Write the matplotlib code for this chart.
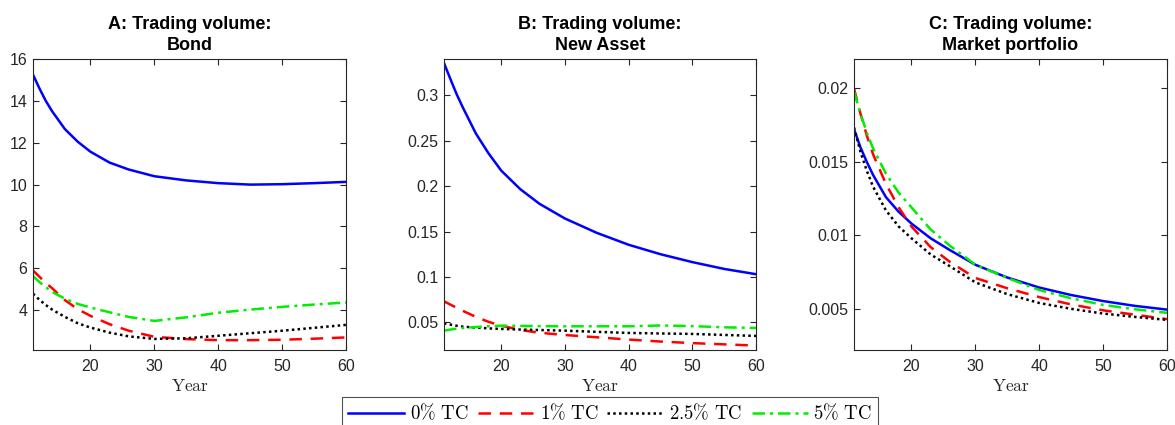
import matplotlib
matplotlib.use("Agg")
import matplotlib.pyplot as plt

plt.rcParams["mathtext.fontset"] = "cm"
plt.rcParams["font.family"] = ["Liberation Sans", "DejaVu Sans"]

# Horizon (years) at which each series is tabulated
years = [11, 12, 13, 14, 16, 18, 20, 23, 26, 30, 35, 40, 45, 50, 55, 60]

# Panel A: bond trading volume
bond_tc0 = [15.25, 14.6, 14.0, 13.5, 12.65, 12.05, 11.57, 11.05, 10.72, 10.4, 10.2, 10.07, 10.0, 10.02, 10.07, 10.13]
bond_tc1 = [5.9, 5.6, 5.3, 5.05, 4.48, 4.05, 3.73, 3.33, 3.02, 2.73, 2.62, 2.57, 2.57, 2.59, 2.64, 2.7]
bond_tc25 = [4.79, 4.5, 4.25, 4.03, 3.68, 3.38, 3.17, 2.93, 2.75, 2.63, 2.66, 2.78, 2.9, 3.02, 3.16, 3.3]
bond_tc5 = [5.63, 5.35, 5.1, 4.87, 4.55, 4.3, 4.13, 3.9, 3.68, 3.49, 3.66, 3.88, 4.03, 4.16, 4.27, 4.37]

# Panel B: new asset trading volume
new_tc0 = [0.3355, 0.318, 0.301, 0.286, 0.258, 0.236, 0.217, 0.1965, 0.1805, 0.1643, 0.1485, 0.1354, 0.125, 0.1163, 0.1088, 0.103]
new_tc1 = [0.0731, 0.0695, 0.066, 0.0625, 0.056, 0.0505, 0.0463, 0.0415, 0.0385, 0.036, 0.0335, 0.031, 0.0288, 0.0271, 0.0257, 0.0244]
new_tc25 = [0.0489, 0.0475, 0.0462, 0.0452, 0.0442, 0.0433, 0.0427, 0.042, 0.0415, 0.0408, 0.0395, 0.0383, 0.0377, 0.0372, 0.0361, 0.035]
new_tc5 = [0.0408, 0.042, 0.043, 0.0438, 0.0448, 0.0457, 0.0463, 0.046, 0.0458, 0.0456, 0.0456, 0.0456, 0.0465, 0.0458, 0.0445, 0.0438]

# Panel C: market portfolio trading volume
mkt_tc0 = [0.01723, 0.0160, 0.0150, 0.0141, 0.0126, 0.0116, 0.0108, 0.0098, 0.0090, 0.0080, 0.00713, 0.00645, 0.00594, 0.00553, 0.0052, 0.00495]
mkt_tc1 = [0.0200, 0.0183, 0.0168, 0.0155, 0.0135, 0.0119, 0.0106, 0.0092, 0.0082, 0.0071, 0.0064, 0.0058, 0.0053, 0.0049, 0.0046, 0.0043]
mkt_tc25 = [0.01734, 0.0157, 0.0144, 0.0133, 0.0117, 0.0106, 0.0098, 0.0087, 0.0079, 0.0068, 0.0060, 0.0054, 0.0050, 0.00468, 0.00445, 0.00425]
mkt_tc5 = [0.0198, 0.0183, 0.0170, 0.0159, 0.0142, 0.0129, 0.0119, 0.0104, 0.0093, 0.0080, 0.0071, 0.00628, 0.00572, 0.00527, 0.00497, 0.00473]

titles = ["A: Trading volume:\nBond", "B: Trading volume:\nNew Asset", "C: Trading volume:\nMarket portfolio"]
legend_labels = [r"$\mathrm{0\%\ TC}$", r"$\mathrm{1\%\ TC}$", r"$\mathrm{2.5\%\ TC}$", r"$\mathrm{5\%\ TC}$"]
x_ticks = [20, 30, 40, 50, 60]
y_ticks = [
    [4, 6, 8, 10, 12, 14, 16],
    [0.05, 0.1, 0.15, 0.2, 0.25, 0.3],
    [0.005, 0.01, 0.015, 0.02],
]
y_ticklabels = [
    ["4", "6", "8", "10", "12", "14", "16"],
    ["0.05", "0.1", "0.15", "0.2", "0.25", "0.3"],
    ["0.005", "0.01", "0.015", "0.02"],
]
y_limits = [(2.1, 16), (0.0195, 0.34), (0.0022, 0.022)]

panels = [
    (bond_tc0, bond_tc1, bond_tc25, bond_tc5),
    (new_tc0, new_tc1, new_tc25, new_tc5),
    (mkt_tc0, mkt_tc1, mkt_tc25, mkt_tc5),
]

styles = [
    dict(color="#0000ff", linestyle="-", linewidth=1.8),
    dict(color="#ff0000", linestyle=(0, (5, 3.5)), linewidth=1.8),
    dict(color="#000000", linestyle=(0, (1, 1.3)), linewidth=1.8),
    dict(color="#00ee00", linestyle=(0, (5, 2, 1.2, 2)), linewidth=1.8),
]

fig = plt.figure(figsize=(11.75, 4.25), dpi=100)
W, H = 1175, 425
lefts = [33, 444, 854]
widths = [313, 312, 313]
top_px, bottom_px = 59, 350

handles = None
for i, series in enumerate(panels):
    ax = fig.add_axes([lefts[i] / W, 1 - bottom_px / H, widths[i] / W, (bottom_px - top_px) / H])
    lines = []
    for vals, st in zip(series, styles):
        ln, = ax.plot(years, vals, **st)
        lines.append(ln)
    handles = lines
    ax.set_xlim(11, 60)
    ax.set_ylim(*y_limits[i])
    ax.set_xticks(x_ticks)
    ax.set_yticks(y_ticks[i])
    ax.set_yticklabels(y_ticklabels[i])
    ax.tick_params(direction="in", top=True, right=True, labelsize=11.5,
                   colors="#262626", length=4, width=0.8)
    ax.tick_params(axis="x", pad=6.5)
    ax.tick_params(axis="y", pad=4)
    for sp in ax.spines.values():
        sp.set_color("#262626")
        sp.set_linewidth(0.8)
    ax.set_title(titles[i], fontsize=13, fontweight="bold", pad=6.5, linespacing=1.3)
    ax.set_xlabel(r"$\mathrm{Year}$", fontsize=12.5, color="#262626", labelpad=3)

leg = fig.legend(handles, legend_labels, loc="upper center",
                 bbox_to_anchor=(610 / W, 1 - 397 / H), ncol=4, fontsize=13.5,
                 frameon=True, fancybox=False, edgecolor="#262626",
                 handlelength=3.0, handletextpad=0.3, columnspacing=0.5,
                 borderpad=0.3, borderaxespad=0)
leg.get_frame().set_linewidth(0.8)

fig.savefig("out.png", dpi=100)
